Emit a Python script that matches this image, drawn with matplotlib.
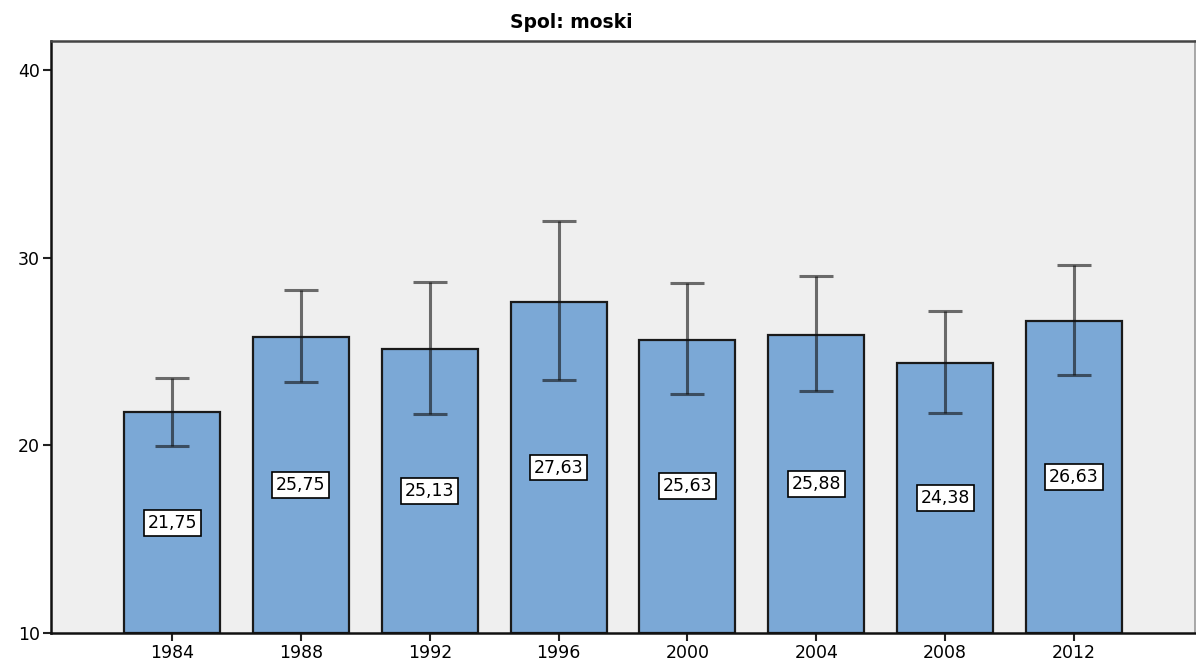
import numpy as np
import matplotlib
matplotlib.use('Agg')
import matplotlib.pyplot as plt

years = ['1984', '1988', '1992', '1996', '2000', '2004', '2008', '2012']
means = [21.75, 25.75, 25.13, 27.63, 25.63, 25.88, 24.38, 26.63]
ci_low = [19.95, 23.35, 21.65, 23.46, 22.71, 22.87, 21.70, 23.72]
ci_high = [23.56, 28.30, 28.72, 31.97, 28.67, 29.04, 27.13, 29.63]
labels = ['21,75', '25,75', '25,13', '27,63', '25,63', '25,88', '24,38', '26,63']

fig = plt.figure(figsize=(11.96, 6.62), dpi=100)
ax = fig.add_axes([51/1196, 1-633/662, 1144/1196, 592/662])
ax.set_facecolor('#efefef')

x = np.arange(len(years))
bottom = 10
heights = np.array(means) - bottom
ax.bar(x, heights, bottom=bottom, width=0.744, color='#7ba8d6',
       edgecolor='#1a1a1a', linewidth=1.6, zorder=2)

err = [np.array(means) - np.array(ci_low), np.array(ci_high) - np.array(means)]
ax.errorbar(x, means, yerr=err, fmt='none', ecolor='#111111', alpha=0.6,
            elinewidth=2.2, capsize=12, capthick=2.2, zorder=3)

for i in range(len(x)):
    ax.text(x[i], (bottom + means[i]) / 2, labels[i], ha='center', va='center',
            fontsize=12.5, zorder=4,
            bbox=dict(boxstyle='square,pad=0.22', facecolor='white',
                      edgecolor='black', linewidth=1.2))

ax.set_xlim(-0.94, 7.94)
ax.set_ylim(10, 41.54)
ax.set_xticks(x)
ax.set_xticklabels(years, fontsize=12.5)
ax.set_yticks([10, 20, 30, 40])
ax.set_yticklabels(['10', '20', '30', '40'], fontsize=12.5)
ax.tick_params(axis='both', length=6, width=1.5, color='#222222', pad=2)

ax.spines['left'].set_color('#111111')
ax.spines['left'].set_linewidth(1.8)
ax.spines['bottom'].set_color('#111111')
ax.spines['bottom'].set_linewidth(1.8)
ax.spines['top'].set_color('#444444')
ax.spines['top'].set_linewidth(1.8)
ax.spines['right'].set_color('#999999')
ax.spines['right'].set_linewidth(1.2)

fig.text(571/1196, 1-22/662, 'Spol: moski', ha='center', va='center',
         fontsize=13.5, fontweight='bold')

fig.savefig('out.png', dpi=100)
